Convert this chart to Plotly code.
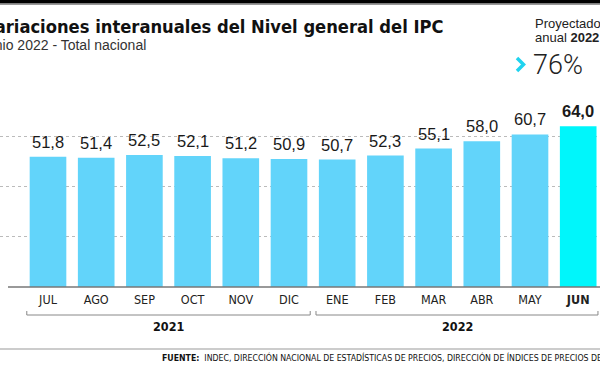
import plotly.graph_objects as go

months = ["JUL", "AGO", "SEP", "OCT", "NOV", "DIC", "ENE", "FEB", "MAR", "ABR", "MAY", "JUN"]
values = [51.8, 51.4, 52.5, 52.1, 51.2, 50.9, 50.7, 52.3, 55.1, 58.0, 60.7, 64.0]
years = ["2021", "2022"]
projected = "76%"

W, H = 600, 365
TOP, BOT = 86, 287
PH = BOT - TOP


def px(x):
    return x / W


def py(y):
    return (BOT - y) / PH


NARROW = "Liberation Sans Narrow, Arial Narrow, DejaVu Sans Condensed, sans-serif"
SANS = "Liberation Sans, Arial, sans-serif"

labels = [f"{v:.1f}".replace(".", ",") for v in values]
colors = ["#62d4fa"] * (len(values) - 1) + ["#00f6fb"]
ticktext = [m if i < len(months) - 1 else f"<b>{m}</b>" for i, m in enumerate(months)]

fig = go.Figure(go.Bar(
    x=list(range(len(months))), y=values,
    marker=dict(color=colors, line=dict(width=0)),
    width=0.76, hoverinfo="skip",
))

pitch = 48.2
r0 = -48 / pitch
fig.update_layout(
    width=W, height=H,
    margin=dict(l=0, r=0, t=TOP, b=H - BOT, pad=0),
    paper_bgcolor="white", plot_bgcolor="white",
    showlegend=False,
    xaxis=dict(range=[r0, r0 + W / pitch], tickvals=list(range(len(months))), ticktext=ticktext,
               showgrid=False, zeroline=False, showline=False, ticks="", ticklabelstandoff=3,
               tickfont=dict(family=NARROW, size=12.5, color="#222")),
    yaxis=dict(range=[0, 80], dtick=20, showticklabels=False, zeroline=False,
               showgrid=True, gridcolor="#bbbbbb", griddash="3px,3px", gridwidth=1),
)

shapes = []
shapes.append(dict(type="rect", xref="paper", yref="paper", x0=0, x1=1, y0=py(0), y1=py(3.5),
                   fillcolor="black", line=dict(width=0), layer="above"))
shapes.append(dict(type="line", xref="paper", yref="paper", x0=0, x1=1, y0=py(4.5), y1=py(4.5),
                   line=dict(color="#999", width=1)))
shapes.append(dict(type="line", xref="paper", yref="paper", x0=px(8), x1=1, y0=0, y1=0,
                   line=dict(color="#777", width=1.5), layer="above"))
for (a, b) in [(-0.44, 5.44), (5.56, 11.41)]:
    shapes.append(dict(type="path", xref="x", yref="paper",
                       path=f"M {a},{py(311)} L {a},{py(315)} L {b},{py(315)} L {b},{py(311)}",
                       line=dict(color="#888", width=1)))
shapes.append(dict(type="line", xref="paper", yref="paper", x0=0, x1=1, y0=py(349), y1=py(349),
                   line=dict(color="#999", width=1)))
shapes.append(dict(type="path", xref="paper", yref="paper",
                   path=f"M {px(517)},{py(58)} L {px(523.5)},{py(64.5)} L {px(517)},{py(71)}",
                   line=dict(color="#1fd3ef", width=3.5)))
fig.update_layout(shapes=shapes)

ann = []
for i, (v, l) in enumerate(zip(values, labels)):
    last = i == len(values) - 1
    ann.append(dict(text=f"<b>{l}</b>" if last else l, x=i, y=v, xref="x", yref="y",
                    xanchor="center", yanchor="bottom", showarrow=False, yshift=4,
                    font=dict(family=SANS, size=16.5, color="#1a1a1a")))
ann.append(dict(text="<b>Variaciones interanuales del Nivel general del IPC</b>", x=px(446), y=py(26),
                xref="paper", yref="paper", xanchor="right", yanchor="middle", showarrow=False,
                font=dict(family=NARROW, size=18.2, color="#111")))
ann.append(dict(text="Junio 2022 - Total nacional", x=px(148), y=py(44.5),
                xref="paper", yref="paper", xanchor="right", yanchor="middle", showarrow=False,
                font=dict(family=SANS, size=14, color="#333")))
ann.append(dict(text="Proyectado", x=px(533), y=py(23), xref="paper", yref="paper",
                xanchor="left", yanchor="middle", showarrow=False,
                font=dict(family=SANS, size=13, color="#222")))
ann.append(dict(text="anual <b>2022</b>", x=px(533), y=py(38), xref="paper", yref="paper",
                xanchor="left", yanchor="middle", showarrow=False,
                font=dict(family=SANS, size=13, color="#222")))
ann.append(dict(text=projected, x=px(531), y=py(65), xref="paper", yref="paper",
                xanchor="left", yanchor="middle", showarrow=False,
                font=dict(family="Roboto", size=27, color="#222", weight=300)))
for i, yr in enumerate(years):
    ann.append(dict(text=f"<b>{yr}</b>", x=[2.5, 8.5][i], y=py(326), xref="x", yref="paper",
                    xanchor="center", yanchor="middle", showarrow=False,
                    font=dict(family=NARROW, size=12.5, color="#111")))
ann.append(dict(text="<b>FUENTE:</b>  INDEC, DIRECCIÓN NACIONAL DE ESTADÍSTICAS DE PRECIOS, DIRECCIÓN DE ÍNDICES DE PRECIOS DE CONSUMO",
                x=px(160), y=py(357), xref="paper", yref="paper", xanchor="left", yanchor="middle",
                showarrow=False, font=dict(family=NARROW, size=8.7, color="#111")))
fig.update_layout(annotations=ann)

fig.write_html("out.html", config={"displayModeBar": False},
               post_script="document.body.style.margin='0';document.body.style.overflow='hidden';")
